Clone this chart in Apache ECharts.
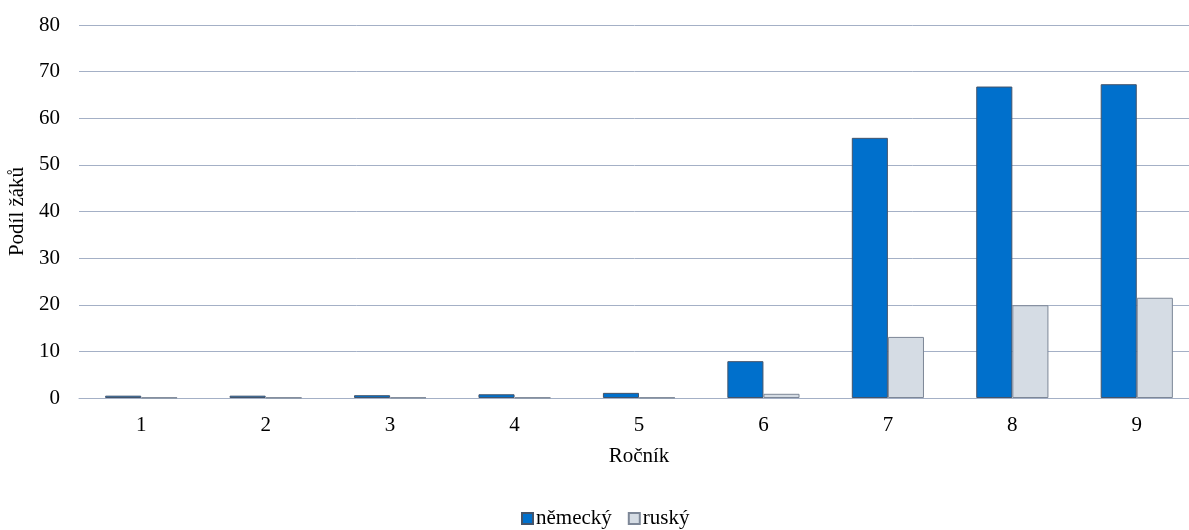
<!DOCTYPE html>
<html>
<head>
<meta charset="utf-8">
<script src="https://cdn.jsdelivr.net/npm/echarts@6/dist/echarts.min.js"></script>
<style>
  html, body { margin: 0; padding: 0; background: #ffffff; overflow: hidden; }
  #chart { width: 1189px; height: 530px; }
</style>
</head>
<body>
<div id="chart"></div>
<script>
// Ročníky (grades)
const categories = ['1', '2', '3', '4', '5', '6', '7', '8', '9'];
// Podíl žáků učících se jazyk (%)
const nemecky = [0.5, 0.5, 0.6, 0.8, 1.1, 7.9, 55.8, 66.8, 67.3];
const rusky = [0.1, 0.1, 0.1, 0.1, 0.1, 0.9, 13.1, 19.9, 21.5];
const yTicks = { min: 0, max: 80, interval: 10 };

const font = '"Liberation Serif", "Times New Roman", serif';
const fs = 21;
const chart = echarts.init(document.getElementById('chart'));

chart.setOption({
  animation: false,
  textStyle: { fontFamily: font },
  grid: { left: 79, right: -10, top: 25, bottom: 132, outerBoundsMode: 'none', containLabel: false },
  legend: {
    top: 508,
    left: 521,
    padding: 0,
    itemWidth: 11,
    itemHeight: 11,
    itemGap: 16,
    icon: 'rect',
    textStyle: { fontFamily: font, fontSize: fs, color: '#000', padding: [0, 0, 0, -2] },
    data: ['německý', 'ruský']
  },
  xAxis: {
    type: 'category',
    data: categories,
    name: 'Ročník',
    nameLocation: 'middle',
    nameGap: 48,
    nameTextStyle: { fontFamily: font, fontSize: fs, color: '#000' },
    axisLine: { show: true, lineStyle: { color: '#a4b0c6', width: 1 } },
    axisTick: { show: false },
    axisLabel: { fontFamily: font, fontSize: fs, color: '#000', margin: 17 }
  },
  yAxis: {
    type: 'value',
    min: yTicks.min,
    max: yTicks.max,
    interval: yTicks.interval,
    name: 'Podíl žáků',
    nameLocation: 'middle',
    nameGap: 48,
    nameTextStyle: { fontFamily: font, fontSize: fs, color: '#000' },
    axisLine: { show: false },
    axisTick: { show: false },
    axisLabel: { fontFamily: font, fontSize: fs, color: '#000', margin: 19 },
    splitLine: { lineStyle: { color: '#a4b0c6', width: 1 } }
  },
  series: [
    {
      name: 'německý',
      type: 'bar',
      data: nemecky,
      barGap: '0%',
      barCategoryGap: '42%',
      itemStyle: { color: '#0070cc', borderColor: '#44546a', borderWidth: 1 }
    },
    {
      name: 'ruský',
      type: 'bar',
      data: rusky,
      itemStyle: { color: '#d5dce4', borderColor: '#7d8797', borderWidth: 1 }
    }
  ]
});
</script>
</body>
</html>
